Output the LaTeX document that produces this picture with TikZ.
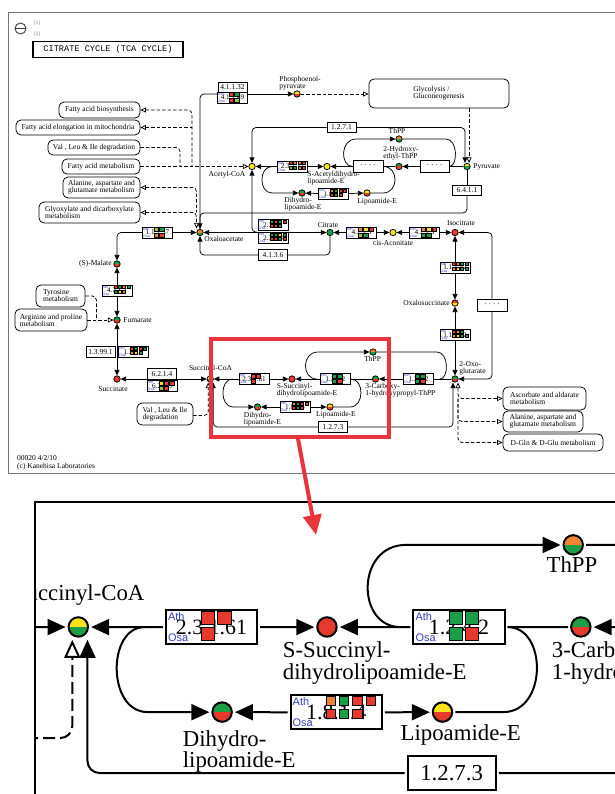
\documentclass[tikz,border=0pt]{standalone}
\usepackage{fontspec}
\setmainfont{Liberation Serif}
\newfontfamily\orgfont{Liberation Sans}
\newfontfamily\titlefont{Liberation Mono}
\usetikzlibrary{arrows.meta,positioning,calc}
\definecolor{kred}{RGB}{231,57,44}
\definecolor{kgreen}{RGB}{28,158,72}
\definecolor{kyellow}{RGB}{248,228,24}
\definecolor{korange}{RGB}{240,132,52}
\definecolor{klime}{RGB}{150,200,50}
\definecolor{kblue}{RGB}{52,62,190}
\definecolor{framegray}{RGB}{120,120,120}
\definecolor{hlred}{RGB}{232,52,58}
\definecolor{notebrown}{RGB}{140,112,84}

\newcommand\mapfont{\fontsize{7.5}{7}\selectfont}
% sizes used in the map, the close-up sets them again
\newcommand\kLine{0.75pt}
\newcommand\kCorner{4pt}
\newcommand\kDashOn{3.5pt}
\newcommand\kDashOff{2pt}
\newcommand\kSq{0.3pt}

\tikzset{
  ktip/.tip={Triangle[length=5.5pt,width=5pt]},
  kopen/.tip={Triangle[open,fill=white,length=5.5pt,width=5pt]},
  cpd/.style 2 args={circle,draw,minimum size=6.4,inner sep=0,
    path picture={
      \fill[#1] (path picture bounding box.north west) rectangle (path picture bounding box.east);
      \fill[#2] (path picture bounding box.west) rectangle (path picture bounding box.south east);}},
  lab/.style={inner sep=0,align=left,font=\mapfont},
  ecbox/.style={draw,fill=white,minimum width=29,minimum height=10.5,inner sep=0,font=\mapfont},
  gene/.style={draw,fill=white,minimum width=30,minimum height=11,inner sep=0},
  ecn/.style={inner sep=0,font=\fontsize{7.2}{7}\selectfont},
  orgn/.style={inner sep=0.7,text=kblue,font=\orgfont\fontsize{3.6}{3.6}\selectfont},
  pwy/.style={draw,fill=white,rounded corners=5,inner sep=0,align=left,font=\mapfont},
  dsh/.style={dash pattern=on \kDashOn off \kDashOff},
  rc/.style={rounded corners=\kCorner},
}

% gene box: name, position, ec number, square size, square pitch, col/row/colour list
\newcommand\gbox[6]{%
  \node[gene] (#1) at (#2) {};
  \node[ecn] (#1-n) at (#1.center) {#3};
  \node[orgn,anchor=north west] (#1-a) at (#1.north west) {Ath};
  \node[orgn,anchor=south west] (#1-o) at (#1.south west) {Osa};
  \foreach \gi/\gj/\gc in {#6}
    \filldraw[fill=\gc,draw=black,line width=\kSq]
      ($(#1.center)+(-3.3+\gi*#5,-5.2+\gj*#5)$) rectangle ++(#4,#4);
}

% the part that the close-up shows
\newcommand\mapzoom{%
\node[cpd={kred}{kred}] (succ) at (117,379) {};
\node[cpd={kyellow}{kgreen}] (scoa) at (210.2,379) {};
\node[cpd={kred}{kred}] (ssdl) at (292,379) {};
\node[cpd={kgreen}{kred}] (chpt) at (375.5,379) {};
\node[cpd={korange}{kgreen}] (thpp2) at (373,352) {};
\node[cpd={kgreen}{kred}] (dhl2) at (257.5,407) {};
\node[cpd={kyellow}{kred}] (lip2) at (330,407) {};
\node[cpd={kgreen}{kred}] (akg) at (455,379) {};
\node[lab] (l-scoa) at (210.5,368.5) {Succinyl-CoA};
\node[lab,anchor=north west] (l-ssdl) at (276.5,383) {S-Succinyl-\\dihydrolipoamide-E};
\node[lab,anchor=north west] (l-chpt) at (365,383) {3-Carboxy-\\1-hydroxypropyl-ThPP};
\node[lab] (l-thpp2) at (372.6,358.6) {ThPP};
\node[lab,anchor=north west] (l-dhl2) at (243.6,412) {Dihydro-\\lipoamide-E};
\node[lab] (l-lip2) at (336,414.5) {Lipoamide-E};
\node[ecbox,minimum height=11] (e1273) at (333,427) {1.2.7.3};
\gbox{g23161}{254,379}{2.3.1.61}{4.3}{5.4}{0/0/kred,1/0/kred,0/1/kred}
\gbox{g1242}{335.4,379}{1.2.4.2}{4.3}{5.4}{0/0/kgreen,1/0/kgreen,0/1/kgreen,1/1/kred}
\gbox{glpd2}{295,407}{1.8.1.4}{3}{4.4}{0/0/korange,1/0/kgreen,2/0/kred,3/0/kred,0/1/kred,1/1/kgreen,2/1/kred}
\coordinate (g1242bw) at (403.5,379);
\coordinate (vli2e) at (193,415.5);
\draw[-{ktip}] (g1242bw) -- (chpt);
\draw (chpt) -- (g1242);
\draw[-{ktip}] (g1242) -- (ssdl);
\draw[-{ktip}] (g23161) -- (ssdl);
\draw[-{ktip}] (g23161) -- (scoa);
\draw[-{ktip}] ($(g1242.west)+(-3.3,0)$) .. controls (301.5,379) and (301.5,352) .. (318,352) -- (thpp2);
\draw (thpp2) -- (437,352) .. controls (449,352) and (449,379) .. (440,379);
\draw (g1242.east) .. controls (364.5,379) and (364.5,407) .. (350,407) -- (lip2);
\draw[-{ktip}] (glpd2) -- (lip2);
\draw[-{ktip}] (glpd2) -- (dhl2);
\draw[-{ktip}] ($(g23161.west)+(-6,0)$) .. controls (219.6,379) and (219.6,407) .. (233,407) -- (dhl2);
\draw[rc,{ktip}-] ($(akg.south)+(-2,0)$) |- (e1273.east);
\draw[rc,-{ktip}] (e1273.west) -| ($(scoa.south)+(3,0)$);
\draw[{ktip}-{ktip}] (succ) -- (scoa);
\draw[dsh,rc,-{kopen}] (vli2e) -| ($(scoa.south)+(-2,0)$);
}

% the rest of the map
\newcommand\mapmain{%
% compounds
\node[cpd={kyellow}{kred}] (pep) at (297,94) {};
\node[cpd={kyellow}{kyellow}] (acoa) at (252,166.5) {};
\node[cpd={kyellow}{kyellow}] (sacdl) at (327,166.5) {};
\node[cpd={kgreen}{kred}] (hethpp) at (399,166.5) {};
\node[cpd={korange}{kgreen}] (thpp1) at (399,139) {};
\node[cpd={kyellow}{kgreen}] (pyr) at (467,166.5) {};
\node[cpd={kgreen}{kred}] (dhl1) at (302,193) {};
\node[cpd={kyellow}{kred}] (lip1) at (367,193) {};
\node[cpd={korange}{kgreen}] (oaa) at (200,232.5) {};
\node[cpd={kgreen}{kgreen}] (cit) at (330,232.5) {};
\node[cpd={kyellow}{kyellow}] (cisac) at (393,232.5) {};
\node[cpd={kred}{kred}] (icit) at (455,232.5) {};
\node[cpd={kred}{kyellow}] (osuc) at (455,303) {};
\node[cpd={kgreen}{kred}] (mal) at (117,264) {};
\node[cpd={kgreen}{kred}] (fum) at (117,320) {};
% compound names
\node[lab,anchor=north west] (l-pep) at (279,76) {Phosphoenol-\\pyruvate};
\node[lab] (l-acoa) at (227,175) {Acetyl-CoA};
\node[lab,anchor=north west] (l-sacdl) at (307,171) {S-Acetyldihydro-\\lipoamide-E};
\node[lab] (l-hethpp) at (401,153.5) {2-Hydroxy-\\ethyl-ThPP};
\node[lab] (l-thpp1) at (397,131) {ThPP};
\node[lab,anchor=west] (l-pyr) at (473,166.5) {Pyruvate};
\node[lab,anchor=north west] (l-dhl1) at (284,197) {Dihydro-\\lipoamide-E};
\node[lab,anchor=west] (l-lip1) at (357,202) {Lipoamide-E};
\node[lab,anchor=west] (l-oaa) at (204,239) {Oxaloacetate};
\node[lab] (l-cit) at (328,225) {Citrate};
\node[lab] (l-cisac) at (393,243) {cis-Aconitate};
\node[lab] (l-icit) at (461,223) {Isocitrate};
\node[lab,anchor=east] (l-osuc) at (450,303) {Oxalosuccinate};
\node[lab,anchor=north west] (l-akg) at (459,361) {2-Oxo-\\glutarate};
\node[lab,anchor=east] (l-mal) at (112,264) {(S)-Malate};
\node[lab,anchor=west] (l-fum) at (123,320) {Fumarate};
\node[lab] (l-succ) at (113,389) {Succinate};
% other maps
\node[pwy,minimum width=140,minimum height=29] (glyco) at (439,93.5) {Glycolysis /\\Gluconeogenesis};
\node[pwy,minimum width=81,minimum height=16] (fab) at (99.5,110) {Fatty acid biosynthesis};
\node[pwy,minimum width=124,minimum height=15] (fae) at (78,127.5) {Fatty acid elongation in mitochondria};
\node[pwy,minimum width=92,minimum height=15] (vli1) at (94,147.5) {Val , Leu \& Ile degradation};
\node[pwy,minimum width=78,minimum height=15] (fam) at (101,166.5) {Fatty acid metabolism};
\node[pwy,minimum width=77,minimum height=21] (ala1) at (101.5,187.5) {Alanine, aspartate and\\glutamate metabolism};
\node[pwy,minimum width=101,minimum height=21] (glx) at (89.5,212.5) {Glyoxylate and dicarboxylate\\metabolism};
\node[pwy,minimum width=49,minimum height=22] (tyr) at (60.5,296) {Tyrosine\\metabolism};
\node[pwy,minimum width=72,minimum height=22] (arg) at (51,320) {Arginine and proline\\metabolism};
\node[pwy,minimum width=56,minimum height=22] (vli2) at (165,414) {Val , Leu \& Ile\\degradation};
\node[pwy,minimum width=83,minimum height=23] (asc) at (544.5,398.5) {Ascorbate and aldarate\\metabolism};
\node[pwy,minimum width=80,minimum height=21] (ala2) at (543,421.5) {Alanine, aspartate and\\glutamate metabolism};
\node[pwy,minimum width=100,minimum height=17] (dgln) at (553,442.5) {D-Gln \& D-Glu metabolism};
% enzymes
\node[ecbox,minimum height=10] (e41132) at (232.5,87) {4.1.1.32};
\node[ecbox] (e1271) at (341.5,127.5) {1.2.7.1};
\node[ecbox] (e6411) at (467,190.5) {6.4.1.1};
\node[ecbox] (e4136) at (273,255) {4.1.3.6};
\node[ecbox] (e13991) at (100.5,352) {1.3.99.1};
\node[ecbox] (e6214) at (162,374) {6.2.1.4};
\node[ecbox,minimum width=30,minimum height=12] (d1) at (368,166.5) {· · · ·};
\node[ecbox,minimum height=12] (d2) at (434.5,166.5) {· · · ·};
\node[ecbox,minimum width=30,minimum height=12] (d3) at (492,305) {· · · ·};
\gbox{g41132}{232.5,97.5}{4.1.1.49}{4.3}{5.4}{0/0/kred,1/0/kgreen,0/1/kred,1/1/klime}
\gbox{gacs}{292.5,166.5}{2.3.1.12}{3}{4.4}{0/0/kred,1/0/korange,2/0/korange,3/0/kred,0/1/klime,1/1/kgreen,2/1/korange,3/1/kred}
\gbox{glpd1}{333.5,194}{1.8.1.4}{3}{4.4}{0/0/korange,1/0/kgreen,2/0/kred,3/0/kred,0/1/kred,1/1/kgreen,2/1/kred}
\gbox{gcs1}{273,225}{2.3.3.1}{3}{4.4}{0/0/kgreen,1/0/kred,2/0/kgreen,3/0/kred,0/1/kred,1/1/kred,2/1/kgreen}
\gbox{gcs2}{273,238}{2.3.3.8}{3}{4.4}{0/0/kgreen,1/0/kgreen,2/0/kyellow,3/0/kgreen,0/1/kred,1/1/kred,2/1/kgreen,3/1/kred}
\gbox{gmdh}{157.5,232.5}{1.1.1.37}{4.3}{5.4}{0/0/klime,1/0/kgreen,0/1/korange,1/1/kred}
\gbox{gfum}{117,290.5}{4.2.1.2}{3}{4.4}{0/0/kred,1/0/kgreen,2/0/korange,3/0/kgreen,0/1/kgreen,1/1/kyellow,2/1/korange}
\gbox{gsdh}{133.5,352}{1.3.5.1}{3}{4.4}{0/0/kred,1/0/kgreen,2/0/kred,3/0/kgreen,0/1/korange,1/1/kyellow,2/1/kgreen}
\gbox{gscs}{162,386}{6.2.1.5}{4.3}{5.4}{0/0/kyellow,1/0/kred,2/0/kred,0/1/klime,1/1/kred}
\gbox{gaco1}{361.5,232.5}{4.2.1.3}{4.3}{5.4}{0/0/korange,1/0/kyellow,2/0/kred,0/1/klime,1/1/kgreen}
\gbox{gaco2}{424.5,232.5}{4.2.1.3}{4.3}{5.4}{0/0/korange,1/0/kyellow,2/0/kred,0/1/kgreen,1/1/kgreen}
\gbox{gidh1}{455,267.5}{1.1.1.42}{3}{4.4}{0/0/kred,1/0/korange,2/0/kgreen,3/0/kgreen,0/1/korange,1/1/kyellow,2/1/kgreen,3/1/kgreen}
\gbox{gidh2}{455,335}{1.1.1.42}{3}{4.4}{0/0/kred,1/0/korange,2/0/kgreen,0/1/korange,1/1/kyellow,2/1/kgreen,3/1/kgreen}
\gbox{g1242b}{418.5,379}{1.2.4.2}{4.3}{5.4}{0/0/kgreen,1/0/kgreen,0/1/kgreen,1/1/kred}
% pyruvate and PEP
\draw[dsh,-{kopen}] (pep) -- (pep -| glyco.west);
\draw[rc] (oaa.north) |- (g41132.west |- pep);
\draw[-{ktip}] (g41132.east |- pep) -- (pep);
\draw[dsh,-{kopen}] ($(glyco.south -| pyr)+(2,0)$) -- ($(pyr.north)+(2,0)$);
\draw[rc,-{ktip}] (e1271.east) -| ($(pyr.north)+(-2,0)$);
\draw[rc,-{ktip}] (e1271.west) -| (acoa.north);
\draw (pyr) -- (e6411);
\draw[rc,-{ktip}] (e6411.south) |- ($(oaa.north)+(0,-16)$) -- (oaa.north);
% pyruvate dehydrogenase
\draw[-{ktip}] (d2) -- (hethpp);
\draw (d2) -- (pyr);
\draw (d1) -- (hethpp);
\draw[-{ktip}] (d1) -- (sacdl);
\draw[-{ktip}] (gacs) -- (sacdl);
\draw[-{ktip}] (gacs) -- (acoa);
\draw[-{ktip}] (d1.west) .. controls (340,166.5) and (340,139) .. (356,139) -- (thpp1);
\draw (thpp1) -- (446,139) .. controls (458,139) and (458,166.5) .. (d2.east);
\draw (d1.east) .. controls (399,166.5) and (399,193) .. (383,193) -- (lip1);
\draw[-{ktip}] (glpd1) -- (lip1);
\draw[-{ktip}] (glpd1) -- (dhl1);
\draw[-{ktip}] ($(gacs.west)+(-5,0)$) .. controls (258.5,166.5) and (258.5,193) .. (272,193) -- (dhl1);
% links to acetyl-CoA and oxaloacetate
\coordinate (faj) at (192,166.5);
\coordinate (vlj) at (180,166.5);
\coordinate (oxj) at (196.5,212.5);
\draw[dsh,rc,{kopen}-] (fab.east) -| (faj);
\draw[dsh,{kopen}-] (fae.east) -- (fae.east -| faj);
\draw[dsh,rc] (vli1.east) -| (vlj);
\draw[dsh,-{kopen}] (fam.east) -- (acoa);
\draw[dsh,rc,{kopen}-] (ala1.east) -| (oxj);
\draw[dsh,rc,{kopen}-{kopen}] (glx.east) -| ($(oaa.north)+(-3.5,-0.5)$);
% citrate cycle
\draw[rc,-{ktip}] (gmdh.west) -| (mal);
\draw[-{ktip}] (gmdh.east) -- (oaa);
\draw[{ktip}-{ktip}] (oaa) -- (cit);
\draw[rc,-{ktip}] (gcs2.north west) -| (acoa.south);
\draw[rc] (cit.south) |- (e4136.east);
\draw[rc,-{ktip}] (e4136.west) -| (oaa.south);
\draw[-{ktip}] (gaco1) -- (cit);
\draw[-{ktip}] (gaco1) -- (cisac);
\draw[-{ktip}] (gaco2) -- (cisac);
\draw[-{ktip}] (gaco2) -- (icit);
\draw[rc,-{ktip}] (d3.north) |- (icit);
\draw[rc,-{ktip}] (d3.south) |- (akg);
\draw[-{ktip}] (gidh1) -- (icit);
\draw[-{ktip}] (gidh1) -- (osuc);
\draw[-{ktip}] (gidh2) -- (osuc);
\draw[-{ktip}] (gidh2) -- (akg);
\draw (akg) -- (g1242b);
\draw[dsh,rc,{kopen}-{kopen}] ($(akg.south)+(3,0)$) |- (asc.west);
\draw[dsh,rc,-{kopen}] ($(akg.south |- asc.west)+(3,0)$) |- (ala2.west);
\draw[dsh,rc,-{kopen}] ($(akg.south |- asc.west)+(3,0)$) |- (dgln.west);
% succinate to malate
\draw[-{ktip}] (gfum) -- (mal);
\draw[-{ktip}] (gfum) -- (fum);
\draw[{ktip}-{ktip}] (fum) -- (succ);
\draw[dsh,-{kopen}] (arg.east) -- (fum);
\draw[dsh,rc] (tyr.east) -| ($(arg.east)+(9,0)$);
}

\begin{document}
\begin{tikzpicture}[x=1pt,y=-1pt]
\useasboundingbox (0,0) rectangle (614,794);
\draw[framegray,line width=1] (8,13) rectangle (660,473);
% title block
\node[circle,draw=black!75,line width=0.9,minimum size=11,inner sep=0] (zoomout) at (20.5,28.5) {};
\draw[black!75,line width=0.9] (zoomout.west) -- (zoomout.east);
\node[inner sep=0,anchor=west,text=notebrown,font=\fontsize{5}{5}\selectfont] (ref1) at (34,23) {[1]};
\node[inner sep=0,anchor=west,text=notebrown,font=\fontsize{5}{5}\selectfont] (ref2) at (34,34) {[2]};
\node[draw,line width=1.6,minimum width=150,minimum height=16,inner sep=0,font=\titlefont\fontsize{8.6}{9}\selectfont] (title) at (108,49.5) {CITRATE CYCLE (TCA CYCLE)};
\node[lab,anchor=west] (mapid) at (17,458) {00020 4/2/10};
\node[lab,anchor=west] (cprt) at (17,467) {(c) Kanehisa Laboratories};

\begin{scope}[line width=\kLine]
  \mapzoom
  \mapmain
\end{scope}

% highlighted part
\node[draw=hlred,line width=3.5,minimum width=178,minimum height=98,inner sep=0] (hl) at (300,388) {};

% close-up
\begin{scope}
  \clip (35,502) rectangle (660,800);
  \renewcommand\kLine{2pt}
  \renewcommand\kCorner{12pt}
  \renewcommand\kDashOn{12pt}
  \renewcommand\kDashOff{5pt}
  \renewcommand\kSq{0.9pt}
  \tikzset{ktip/.tip={Triangle[length=18pt,width=16pt]},
    kopen/.tip={Triangle[open,fill=white,length=18pt,width=16pt]}}
  \begin{scope}[shift={(-560.7,-525.2)},scale=3.04,transform shape,name prefix=z-,line width=\kLine]
    \mapzoom
  \end{scope}
\end{scope}
\draw[line width=1.5] (35,800) -- (35,502) -- (660,502);

\coordinate (zoomtip) at (316,535);
\draw[hlred,line width=4,-{Triangle[length=20pt,width=18pt]}] ($(hl.south)+(-2,0)$) -- (zoomtip);
\end{tikzpicture}
\end{document}
